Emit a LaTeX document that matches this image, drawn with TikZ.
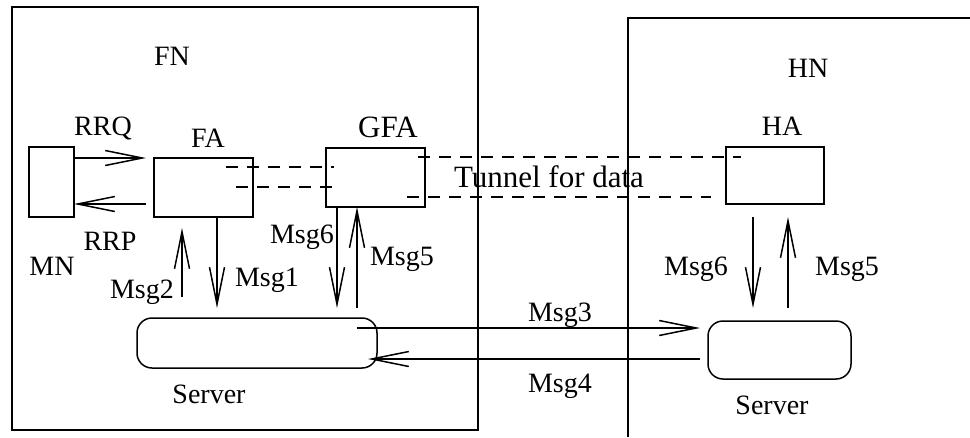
\documentclass[tikz,border=0pt]{standalone}
\usepackage{fontspec}
\setmainfont{Liberation Serif}
\usetikzlibrary{arrows.meta}
\begin{document}
\begin{tikzpicture}[x=1pt,y=-1pt,
  line width=1.5pt,
  box/.style={draw,rectangle,inner sep=0pt},
  srv/.style={draw,rectangle,rounded corners=15pt,inner sep=0pt},
  lbl/.style={anchor=base,inner sep=0pt,font=\fontsize{28pt}{30pt}\selectfont},
  big/.style={anchor=base,inner sep=0pt,font=\fontsize{31pt}{34pt}\selectfont},
  arr/.style={-{Straight Barb[length=37pt,width=15pt]}},
  tun/.style={dash pattern=on 12pt off 9pt}]
\useasboundingbox (0,0) rectangle (970,437);
% outer regions
\node[box,minimum width=466pt,minimum height=423pt] (fn) at (245,218.5) {};
\coordinate (hnb) at (628,437);
\coordinate (hnc) at (628,18);
\coordinate (hnr) at (970,18);
\draw (hnb) -- (hnc) -- (hnr);
% boxes
\node[box,minimum width=45pt,minimum height=70pt] (mn) at (51.5,182) {};
\node[box,minimum width=99pt,minimum height=59pt] (fa) at (203.5,187.5) {};
\node[box,minimum width=99pt,minimum height=59pt] (gfa) at (375.5,177.5) {};
\node[box,minimum width=98pt,minimum height=57pt] (ha) at (775,175.5) {};
\node[srv,minimum width=240pt,minimum height=50pt] (s1) at (257,343) {};
\node[srv,minimum width=143pt,minimum height=58pt] (s2) at (779.5,350) {};
% labels
\node[lbl] (lfn) at (172,65) {FN};
\node[lbl] (lhn) at (808,77) {HN};
\node[lbl] (lmn) at (52,275) {MN};
\node[lbl] (lfa) at (208,147) {FA};
\node[big] (lgfa) at (388,137) {GFA};
\node[lbl] (lha) at (782,135) {HA};
\node[lbl] (lrrq) at (103,135) {RRQ};
\node[lbl] (lrrp) at (110,250) {RRP};
\node[lbl] (lm2) at (142,298) {Msg2};
\node[lbl] (lm1) at (267,286) {Msg1};
\node[lbl] (lm6a) at (302,243) {Msg6};
\node[lbl] (lm5a) at (402,265) {Msg5};
\node[lbl] (ls1) at (209,403) {Server};
\node[lbl] (lm3) at (560,321) {Msg3};
\node[lbl] (lm4) at (560,392) {Msg4};
\node[lbl] (ls2) at (772,414) {Server};
\node[lbl] (lm6b) at (696,275) {Msg6};
\node[lbl] (lm5b) at (847,275) {Msg5};
\node[big] (ltun) at (549,187) {Tunnel for data};
% arrow endpoints
\coordinate (rrqa) at (74,158);  \coordinate (rrqb) at (146,158);
\coordinate (rrpa) at (146,204); \coordinate (rrpb) at (74,204);
\coordinate (m2a) at (182,297);  \coordinate (m2b) at (182,228);
\coordinate (m1a) at (217,217);  \coordinate (m1b) at (217,308);
\coordinate (m6a) at (337,207);  \coordinate (m6b) at (337,308);
\coordinate (m5a) at (357,308);  \coordinate (m5b) at (357,207);
\coordinate (m3a) at (357,328);  \coordinate (m3b) at (700,328);
\coordinate (m4a) at (700,359);  \coordinate (m4b) at (368,359);
\coordinate (h6a) at (753,217);  \coordinate (h6b) at (753,308);
\coordinate (h5a) at (788,308);  \coordinate (h5b) at (788,217);
\draw[arr] (rrqa) -- (rrqb);
\draw[arr] (rrpa) -- (rrpb);
\draw[arr] (m2a) -- (m2b);
\draw[arr] (m1a) -- (m1b);
\draw[arr] (m6a) -- (m6b);
\draw[arr] (m5a) -- (m5b);
\draw[arr] (m3a) -- (m3b);
\draw[arr] (m4a) -- (m4b);
\draw[arr] (h6a) -- (h6b);
\draw[arr] (h5a) -- (h5b);
% tunnel dashed lines
\coordinate (t1a) at (226,167); \coordinate (t1b) at (334,167);
\coordinate (t2a) at (236,187); \coordinate (t2b) at (336,187);
\coordinate (t3a) at (418,157); \coordinate (t3b) at (741,157);
\coordinate (t4a) at (407,197); \coordinate (t4b) at (711,197);
\draw[tun] (t1a) -- (t1b);
\draw[tun] (t2a) -- (t2b);
\draw[tun] (t3a) -- (t3b);
\draw[tun] (t4a) -- (t4b);
\end{tikzpicture}
\end{document}
